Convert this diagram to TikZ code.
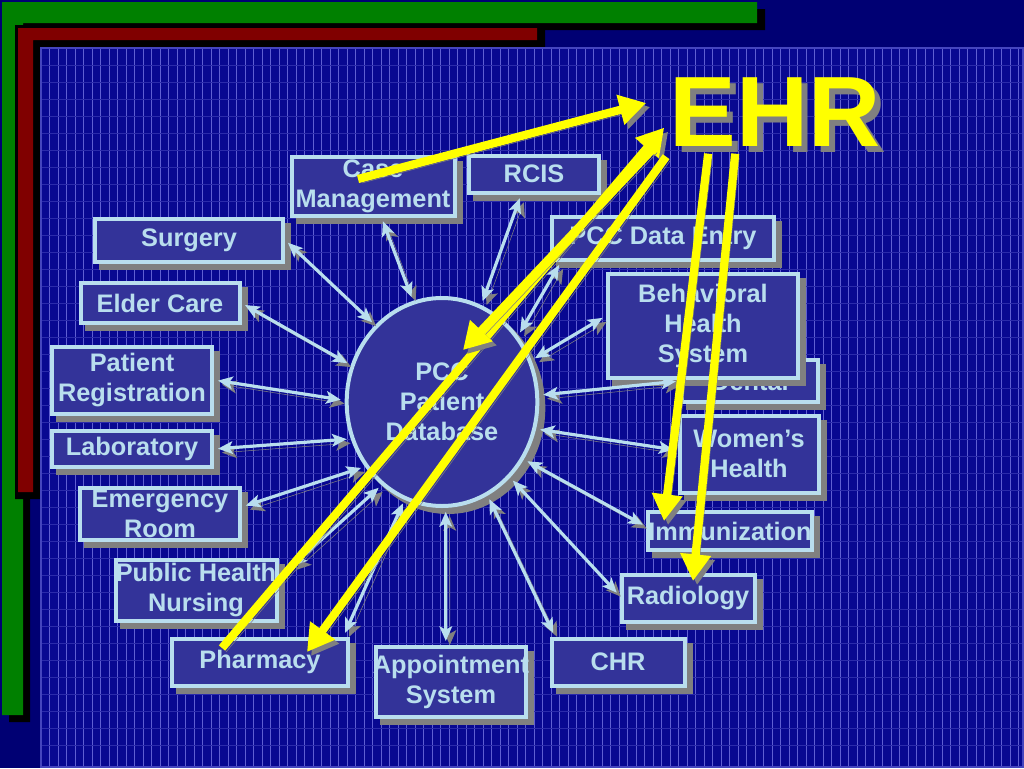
\documentclass[tikz,border=0pt]{standalone}
\usepackage{fontspec}
\setmainfont{Liberation Sans}
\usetikzlibrary{arrows.meta}
\usetikzlibrary{shapes.geometric}
\usetikzlibrary{shadows}

\definecolor{navy}{RGB}{0,0,115}
\definecolor{panelblue}{RGB}{8,8,145}
\definecolor{gridblue}{RGB}{95,95,210}
\definecolor{boxblue}{RGB}{51,51,153}
\definecolor{paleblue}{RGB}{185,222,238}
\definecolor{shadowgray}{RGB}{128,128,128}
\definecolor{ehryellow}{RGB}{255,255,0}
\definecolor{barred}{RGB}{128,0,0}
\definecolor{bargreen}{RGB}{0,128,0}

\newcommand{\deptfont}{\fontsize{19}{22.5}\selectfont\bfseries}

\tikzset{
  dept/.style={draw=paleblue, line width=3pt, fill=boxblue, text=paleblue, font=\deptfont,
    align=center, inner sep=0pt,
    general shadow={fill=shadowgray, draw=shadowgray, shadow xshift=4.5pt, shadow yshift=-4.5pt}},
  link/.style={draw=paleblue, line width=2.4pt,
    arrows={Stealth[length=11pt,width=9.5pt,inset=2.5pt]-Stealth[length=11pt,width=9.5pt,inset=2.5pt]},
    shorten <=3pt, shorten >=3pt,
    preaction={draw=shadowgray, transform canvas={shift={(3pt,-3pt)}}}},
  feed/.style={draw=ehryellow, line width=6.2pt, arrows={-Triangle[length=20pt,width=22pt]},
    preaction={draw=shadowgray, transform canvas={shift={(3pt,-3pt)}}}},
}

\begin{document}
\begin{tikzpicture}[x=0.75pt,y=-0.75pt]
        \fill[navy] (0,0) rectangle (1024,768);
        \useasboundingbox (0,0) rectangle (1024,768);
        \fill[black] (9,9) rectangle (765,30) (9,9) rectangle (30,722);
        \fill[bargreen] (2,2) rectangle (757,23) (2,2) rectangle (23,715);
        \fill[black] (15,25) rectangle (545,47) (15,25) rectangle (40,499);
        \fill[barred] (18,28) rectangle (537,40) (18,28) rectangle (33,492);
        \fill[panelblue] (41,48) rectangle (1023,767);
        \foreach \gx in {49.5,58,...,1020} \draw[gridblue, line width=0.4pt] (\gx,49) -- (\gx,766);
        \foreach \gy in {65,82,...,760} \draw[gridblue!40!panelblue, line width=0.3pt] (42,\gy) -- (1022,\gy);
        \draw[gridblue!70!panelblue, line width=2pt] (41,48) rectangle (1023,767);

        \node[dept, minimum width=122.25pt, minimum height=44.25pt] (case) at (373,186) {Case\\Management};
        \node[dept, minimum width=97.5pt, minimum height=27.75pt] (rcis) at (534,174) {RCIS};
        \node[dept, minimum width=141pt, minimum height=32.25pt] (surg) at (189,240) {Surgery};
        \node[dept, minimum width=166.5pt, minimum height=32.25pt] (pccde) at (663,238) {PCC Data Entry};
        \node[dept, minimum width=119.25pt, minimum height=30pt] (elder) at (160,303) {Elder Care};
        \node[dept, minimum width=102pt, minimum height=31.5pt] (dental) at (750,381) {Dental};
        \node[dept, minimum width=142.5pt, minimum height=78pt] (behav) at (703,326) {Behavioral\\Health\\System};
        \node[dept, minimum width=120pt, minimum height=50.25pt] (patreg) at (132,380) {Patient\\Registration};
        \node[dept, minimum width=120pt, minimum height=27pt] (lab) at (132,449) {Laboratory};
        \node[dept, minimum width=104.25pt, minimum height=57.75pt] (women) at (749,454) {Women’s\\Health};
        \node[dept, minimum width=120pt, minimum height=39pt] (emerg) at (160,514) {Emergency\\Room};
        \node[dept, minimum width=120.75pt, minimum height=28.5pt] (immun) at (730,531) {Immunization};
        \node[dept, minimum width=120.75pt, minimum height=45.75pt] (phn) at (196,590) {Public Health\\Nursing};
        \node[dept, minimum width=99.75pt, minimum height=35.25pt] (radio) at (688,598) {Radiology};
        \node[dept, minimum width=132pt, minimum height=35.25pt] (pharm) at (260,662) {Pharmacy};
        \node[dept, minimum width=112.5pt, minimum height=52.5pt] (appt) at (451,682) {\makebox[100pt]{Appointment}\\System};
        \node[dept, minimum width=99.75pt, minimum height=35.25pt] (chr) at (618,662) {CHR};
        \node[dept, ellipse, minimum width=143pt, minimum height=156pt] (db) at (442,402) {PCC\\Patient\\Database};

        \draw[link] (surg.east) -- (db.131);
        \draw[link] (case.-75) -- (db.106);
        \draw[link] (rcis.-122) -- (db.68);
        \draw[link] (pccde.193) -- (db.41);
        \draw[link] (behav.174) -- (db.25);
        \draw[link] (dental.west) -- (db.4);
        \draw[link] (women.177) -- (db.-16);
        \draw[link] (immun.177) -- (db.-35);
        \draw[link] (radio.178) -- (db.-48);
        \draw[link] (chr.158) -- (db.-64);
        \draw[link] (appt.98) -- (db.-88);
        \draw[link] (pharm.17) -- (db.-111);
        \draw[link, shorten <=14pt] (phn.8) -- (db.-126);
        \draw[link] (emerg.5) -- (db.-140);
        \draw[link] (lab.east) -- (db.-158);
        \draw[link] (patreg.east) -- (db.179);
        \draw[link] (elder.east) -- (db.158);

        \node[text=shadowgray, font=\fontsize{75}{80}\selectfont\bfseries, inner sep=0pt] (ehrshade) at (781,118) {EHR};
        \node[text=ehryellow, font=\fontsize{75}{80}\selectfont\bfseries, inner sep=0pt] (ehr) at (775,112) {EHR};

        \draw[feed] ([shift={(-15,-7)}]case.center) -- ([shift={(-23,-9)}]ehr.west);
        \draw[feed] ([shift={(-38,-14)}]pharm.center) -- ([shift={(-5,-19)}]ehr.south west);
        \draw[feed] ([shift={(-16,2)}]ehr.south west) -- ([shift={(21,-52)}]db.center);
        \draw[feed] ([shift={(-3,10)}]ehr.south west) -- ([shift={(47,-10)}]pharm.center);
        \draw[feed] ([shift={(39,7)}]ehr.south west) -- ([shift={(-66,-10)}]immun.center);
        \draw[feed] ([shift={(66,7)}]ehr.south west) -- ([shift={(5,-17)}]radio.center);
    \end{tikzpicture}
\end{document}
